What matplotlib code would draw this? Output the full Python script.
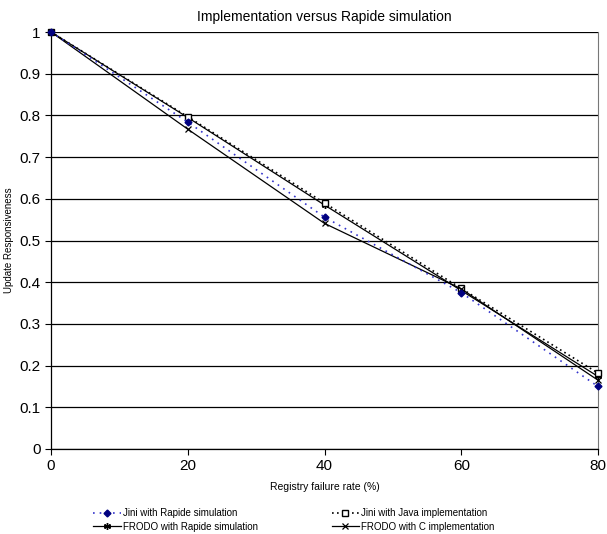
import matplotlib.pyplot as plt

plt.rcParams['font.family'] = ['Liberation Sans', 'DejaVu Sans']

# Registry failure rate (%)
failure_rate = [0, 20, 40, 60, 80]

# Update responsiveness per configuration
jini_rapide = [1.0, 0.784, 0.556, 0.375, 0.150]
jini_java = [1.0, 0.797, 0.590, 0.385, 0.182]
frodo_rapide = [1.0, 0.795, 0.585, 0.380, 0.174]
frodo_c = [1.0, 0.767, 0.541, 0.384, 0.165]

y_ticks = [0, 0.1, 0.2, 0.3, 0.4, 0.5, 0.6, 0.7, 0.8, 0.9, 1]
y_tick_labels = ["0", "0.1", "0.2", "0.3", "0.4", "0.5", "0.6", "0.7", "0.8", "0.9", "1"]

fig = plt.figure(figsize=(6.07, 5.34), dpi=100)
ax = fig.add_axes([51 / 607, 1 - 449 / 534, (598 - 51) / 607, (449 - 32) / 534])

asterisk = (6, 2, 0)

ax.plot(failure_rate, jini_rapide, linestyle=(0, (1, 3)), color="#3333cc", lw=1.2,
        marker="D", markersize=3.5, markerfacecolor="#000080", markeredgecolor="#000080",
        label="Jini with Rapide simulation", zorder=4, clip_on=False)
ax.plot(failure_rate, frodo_rapide, linestyle="-", color="black", lw=0.9,
        marker=asterisk, markersize=5, markeredgewidth=1,
        label="FRODO with Rapide simulation", zorder=3, clip_on=False)
ax.plot(failure_rate, jini_java, linestyle=(0, (1, 2)), color="black", lw=1.2,
        marker="s", markersize=4.5, markerfacecolor="white", markeredgecolor="black",
        label="Jini with Java implementation", zorder=3, clip_on=False)
ax.plot(failure_rate, frodo_c, linestyle="-", color="black", lw=0.9,
        marker="x", markersize=4.5, markeredgewidth=0.9,
        label="FRODO with C implementation", zorder=3, clip_on=False)

ax.set_xlim(0, 80)
ax.set_ylim(0, 1)
ax.set_xticks(failure_rate)
ax.set_yticks(y_ticks)
ax.set_yticklabels(y_tick_labels)
ax.tick_params(axis="both", direction="out", length=4, width=0.8, labelsize=11)
ax.yaxis.grid(True, color="black", lw=0.9)
ax.set_axisbelow(True)
for side in ["left", "bottom"]:
    ax.spines[side].set_color("black")
    ax.spines[side].set_linewidth(0.9)
ax.spines["top"].set_visible(False)
ax.spines["right"].set_color("#777777")

ax.set_title("Implementation versus Rapide simulation", fontsize=10, pad=8)
ax.set_xlabel("Registry failure rate (%)", fontsize=7.5, labelpad=6)
ax.set_ylabel("Update Responsiveness", fontsize=7, labelpad=4)

fig.legend(loc="center", bbox_to_anchor=(0.484, 1 - 520 / 534), ncol=2,
           frameon=False, fontsize=7, handlelength=2.8, handletextpad=0.2,
           columnspacing=7.6, labelspacing=0.35)

fig.savefig("out.png", dpi=100)
